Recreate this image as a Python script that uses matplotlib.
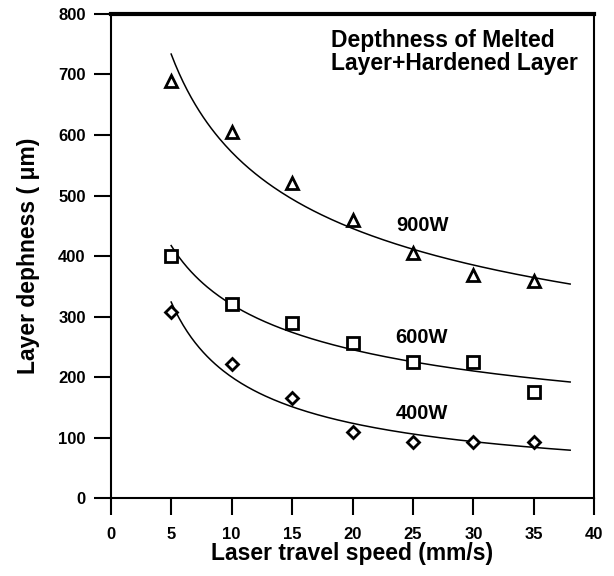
import numpy as np
import matplotlib
matplotlib.use("Agg")
import matplotlib.pyplot as plt

plt.rcParams['font.family'] = ['Liberation Sans', 'DejaVu Sans']
plt.rcParams['font.weight'] = 'bold'

speed = [5, 10, 15, 20, 25, 30, 35]
depth_900 = [690, 605, 520, 460, 405, 368, 358]
depth_600 = [400, 320, 290, 256, 224, 225, 175]
depth_400 = [308, 222, 166, 109, 93, 93, 93]
series_labels = ['900W', '600W', '400W']
x_ticks = [0, 5, 10, 15, 20, 25, 30, 35, 40]
y_ticks = [0, 100, 200, 300, 400, 500, 600, 700, 800]

fig = plt.figure(figsize=(6.14, 5.76), dpi=100)
ax = fig.add_axes([0.1803, 0.1354, 0.968 - 0.1803, 0.9757 - 0.1354])

xs = np.array(speed, dtype=float)
xfit = np.linspace(5, 38, 200)
markers = ['^', 's', 'D']
msizes = [8, 8.5, 6.5]
for ys, mk, ms in zip([depth_900, depth_600, depth_400], markers, msizes):
    ys = np.array(ys, dtype=float)
    b, lna = np.polyfit(np.log(xs), np.log(ys), 1)
    ax.plot(xfit, np.exp(lna) * xfit ** b, color='black', lw=1.1)
    ax.plot(xs, ys, linestyle='none', marker=mk, ms=ms, mfc='white', mec='black', mew=2)

ax.text(23.6, 451, series_labels[0], fontsize=14.5, fontweight='bold', va='center', ha='left')
ax.text(23.5, 266, series_labels[1], fontsize=14.5, fontweight='bold', va='center', ha='left')
ax.text(23.6, 140, series_labels[2], fontsize=14.5, fontweight='bold', va='center', ha='left')
ax.text(18.2, 776, 'Depthness of Melted\nLayer+Hardened Layer', fontsize=16.5,
        fontweight='bold', va='top', ha='left', linespacing=1.05)

ax.set_xlim(0, 40)
ax.set_ylim(0, 800)
ax.set_xticks(x_ticks)
ax.set_yticks(y_ticks)
ax.tick_params(direction='out', length=12, width=1.5, labelsize=12, colors='black')
ax.tick_params(axis='x', pad=9)
ax.tick_params(axis='y', pad=6)
for lab in ax.get_xticklabels() + ax.get_yticklabels():
    lab.set_fontweight('bold')
for s in ['left', 'bottom', 'right']:
    ax.spines[s].set_linewidth(1.5)
ax.spines['top'].set_linewidth(3)

ax.set_xlabel('Laser travel speed (mm/s)', fontsize=16.5, fontweight='bold', labelpad=0)
ax.set_ylabel('Layer dephness ( μm)', fontsize=16.5, fontweight='bold', labelpad=13)

fig.savefig('out.png', dpi=100)
